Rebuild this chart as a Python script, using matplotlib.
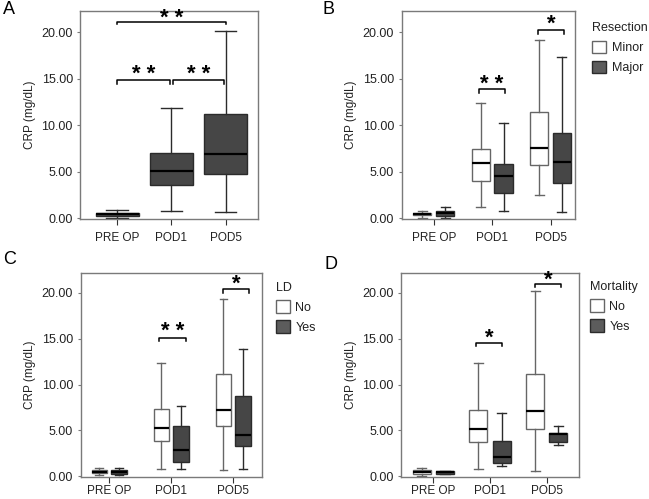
import matplotlib
matplotlib.use("Agg")
import matplotlib.pyplot as plt
from matplotlib.patches import Patch

plt.rcParams['font.family'] = ['Liberation Sans', 'DejaVu Sans']

# categories and box statistics: [whisker low, Q1, median, Q3, whisker high]
categories = ["PRE OP", "POD1", "POD5"]

a_all = [[0.05, 0.2, 0.4, 0.6, 0.9], [0.79, 3.58, 5.05, 7.06, 11.83], [0.61, 4.77, 6.95, 11.18, 20.18]]

b_minor = [[0.05, 0.3, 0.42, 0.55, 0.8], [1.18, 4.01, 5.88, 7.46, 12.44], [2.47, 5.7, 7.56, 11.4, 19.14]]
b_major = [[0.04, 0.22, 0.5, 0.75, 1.18], [0.79, 2.69, 4.55, 5.84, 10.2], [0.61, 3.73, 6.02, 9.21, 17.38]]

c_no = [[0.15, 0.33, 0.5, 0.69, 0.95], [0.84, 3.82, 5.31, 7.31, 12.4], [0.65, 5.49, 7.24, 11.2, 19.35]]
c_yes = [[0.15, 0.29, 0.5, 0.69, 0.95], [0.84, 1.56, 2.84, 5.53, 7.71], [0.84, 3.35, 4.55, 8.76, 13.9]]

d_no = [[0.07, 0.29, 0.47, 0.65, 0.95], [0.76, 3.71, 5.2, 7.2, 12.4], [0.58, 5.13, 7.16, 11.2, 20.25]]
d_yes = [[0.25, 0.3, 0.45, 0.58, 0.62], [1.13, 1.49, 2.15, 3.85, 6.91], [3.42, 3.71, 4.62, 4.75, 5.53]]

yticks = [0, 5, 10, 15, 20]
ytick_labels = ["0.00", "5.00", "10.00", "15.00", "20.00"]

DARK = "#464646"
EDGE = "#2b2b2b"
GREY_EDGE = "#666666"
FRAME = "#7a7a7a"
TEXT = "#222222"


def to_stats(rows):
    return [dict(whislo=r[0], q1=r[1], med=r[2], q3=r[3], whishi=r[4]) for r in rows]


def draw_boxes(ax, rows, offset, width, face, edge):
    pos = [i + offset for i in range(len(rows))]
    ax.bxp(to_stats(rows), positions=pos, widths=width, patch_artist=True,
           showfliers=False, capwidths=width * 0.5, manage_ticks=False,
           boxprops=dict(facecolor=face, edgecolor=edge, linewidth=1.0),
           medianprops=dict(color="black", linewidth=1.6),
           whiskerprops=dict(color=edge, linewidth=1.0),
           capprops=dict(color=edge, linewidth=1.0))


def bracket(ax, x1, x2, y, text, drop=0.38, gap=0.35):
    ax.plot([x1, x1, x2, x2], [y - drop, y, y, y - drop], color="black", lw=1.1,
            clip_on=False)
    ax.text((x1 + x2) / 2, y + gap, text, ha="center", va="center", fontsize=16,
            fontweight="bold", clip_on=False)


def style(ax, xlim, ytop, xpad):
    ax.set_xlim(*xlim)
    ax.set_ylim(-0.05, ytop)
    ax.set_xticks(range(len(categories)))
    ax.set_xticklabels(categories, fontsize=8.5, color=TEXT)
    ax.set_yticks(yticks)
    ax.set_yticklabels(ytick_labels, fontsize=9, color=TEXT)
    ax.set_ylabel("CRP (mg/dL)", fontsize=8.5, labelpad=4, color=TEXT)
    for s in ax.spines.values():
        s.set_color(FRAME)
        s.set_linewidth(1.0)
    ax.tick_params(axis="x", length=4, width=0.8, color="#333333", pad=xpad)
    ax.tick_params(axis="y", length=2.5, width=0.8, color=FRAME, pad=3)


def legend(ax, title, labels, x, y):
    handles = [Patch(facecolor="white", edgecolor=GREY_EDGE, linewidth=1.0),
               Patch(facecolor="#5c5c5c", edgecolor=EDGE, linewidth=1.0)]
    lg = ax.legend(handles, labels, title=title, loc="upper left",
                   bbox_to_anchor=(x, y), frameon=False, fontsize=9,
                   title_fontsize=9, handlelength=1.1, handleheight=1.2,
                   labelspacing=0.5, handletextpad=0.45, borderaxespad=0,
                   borderpad=0, alignment="left")
    plt.setp(lg.get_texts(), color=TEXT)
    lg.get_title().set_color(TEXT)
    return lg


fig = plt.figure(figsize=(6.49, 4.99), dpi=100)

axA = fig.add_axes([0.124, 0.562, 0.2735, 0.416])
axB = fig.add_axes([0.619, 0.562, 0.267, 0.416])
axC = fig.add_axes([0.1243, 0.0445, 0.2787, 0.409])
axD = fig.add_axes([0.618, 0.0445, 0.2746, 0.409])

# A
draw_boxes(axA, a_all, 0.0, 0.8, DARK, EDGE)
style(axA, (-0.68, 2.6), 22.3, 6)
bracket(axA, 0.0, 2.0, 21.15, "* *", drop=0.3, gap=0.3)
bracket(axA, 0.0, 0.97, 14.84, "* *", gap=0.6)
bracket(axA, 1.03, 1.98, 14.84, "* *", gap=0.6)

# B
draw_boxes(axB, b_minor, -0.195, 0.31, "white", GREY_EDGE)
draw_boxes(axB, b_major, 0.195, 0.31, DARK, EDGE)
style(axB, (-0.55, 2.42), 22.3, 6)
bracket(axB, 0.77, 1.22, 13.9, "* *", gap=0.5)
bracket(axB, 1.78, 2.23, 20.25, "*", gap=0.6)
legend(axB, "Resection", ["Minor", "Major"], 1.1, 0.945)

# C
draw_boxes(axC, c_no, -0.16, 0.25, "white", GREY_EDGE)
draw_boxes(axC, c_yes, 0.155, 0.25, DARK, EDGE)
style(axC, (-0.46, 2.455), 22.2, 2)
bracket(axC, 0.8, 1.23, 15.13, "* *", drop=0.43, gap=0.65)
bracket(axC, 1.83, 2.26, 20.4, "*", drop=0.43, gap=0.55)
legend(axC, "LD", ["No", "Yes"], 1.08, 0.955)

# D
draw_boxes(axD, d_no, -0.205, 0.32, "white", GREY_EDGE)
draw_boxes(axD, d_yes, 0.205, 0.32, DARK, EDGE)
style(axD, (-0.57, 2.575), 22.2, 2)
bracket(axD, 0.75, 1.21, 14.58, "*", gap=0.5)
bracket(axD, 1.79, 2.25, 20.98, "*", gap=0.45)
legend(axD, "Mortality", ["No", "Yes"], 1.06, 0.96)

for lab, x, y in [("A", 0.005, 0.98), ("B", 0.497, 0.98), ("C", 0.005, 0.479), ("D", 0.5, 0.469)]:
    fig.text(x, y, lab, fontsize=13, ha="left", va="center")

fig.savefig("out.png", dpi=100)
